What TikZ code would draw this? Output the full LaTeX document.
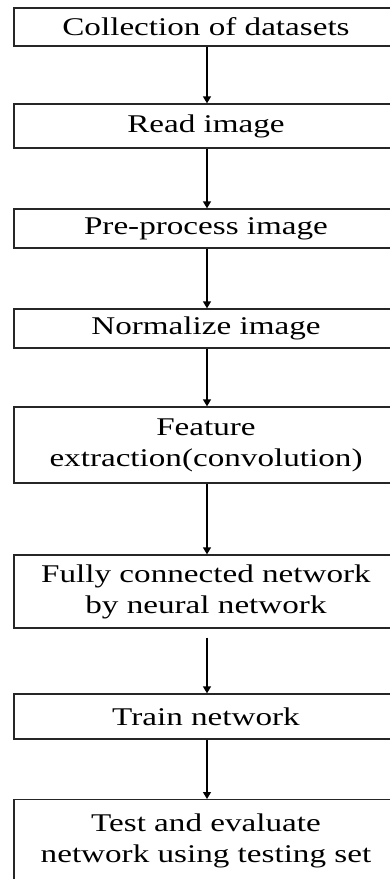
\documentclass[tikz,border=0pt]{standalone}
\usepackage{fontspec}
\setmainfont[FakeStretch=1.3]{Liberation Serif}
\usetikzlibrary{arrows.meta}
\begin{document}
\begin{tikzpicture}[x=1pt,y=-1pt,
  stepbox/.style={draw=black!85, line width=1.3pt, minimum width=384pt, inner sep=0pt, align=center, font=\fontsize{25.5}{31}\selectfont},
  flow/.style={line width=1.3pt, -{Triangle[width=8pt,length=7pt]}}]
\useasboundingbox (0,0) rectangle (390,879);
\clip (0,0) rectangle (390,879);
\fill[white] (0,0) rectangle (390,879);
\node[stepbox, minimum height=38pt] (n1) at (206,27) {Collection of datasets};
\node[stepbox, minimum height=44pt] (n2) at (206,126) {Read image};
\node[stepbox, minimum height=39pt] (n3) at (206,228.5) {Pre-process image};
\node[stepbox, minimum height=39pt] (n4) at (206,328.5) {Normalize image};
\node[stepbox, minimum height=76pt] (n5) at (206,445) {Feature\\extraction(convolution)};
\node[stepbox, minimum height=73pt] (n6) at (206,591.5) {Fully connected network\\by neural network};
\node[stepbox, minimum height=45pt] (n7) at (206,716.5) {Train network};
\node[stepbox, minimum height=100pt, anchor=north] (n8) at (206,799) {};
\node[align=center, font=\fontsize{25.5}{31}\selectfont] (t8) at (206,841) {Test and evaluate\\network using testing set};
\draw[flow] (n1.south -| 207,0) -- (n2.north -| 207,0);
\draw[flow] (n2.south -| 207,0) -- (n3.north -| 207,0);
\draw[flow] (n3.south -| 207,0) -- (n4.north -| 207,0);
\draw[flow] (n4.south -| 207,0) -- (n5.north -| 207,0);
\draw[flow] (n5.south -| 207,0) -- (n6.north -| 207,0);
\draw[flow] ([yshift=-9pt]n6.south -| 207,0) -- (n7.north -| 207,0);
\draw[flow] (n7.south -| 207,0) -- (n8.north -| 207,0);
\end{tikzpicture}
\end{document}
